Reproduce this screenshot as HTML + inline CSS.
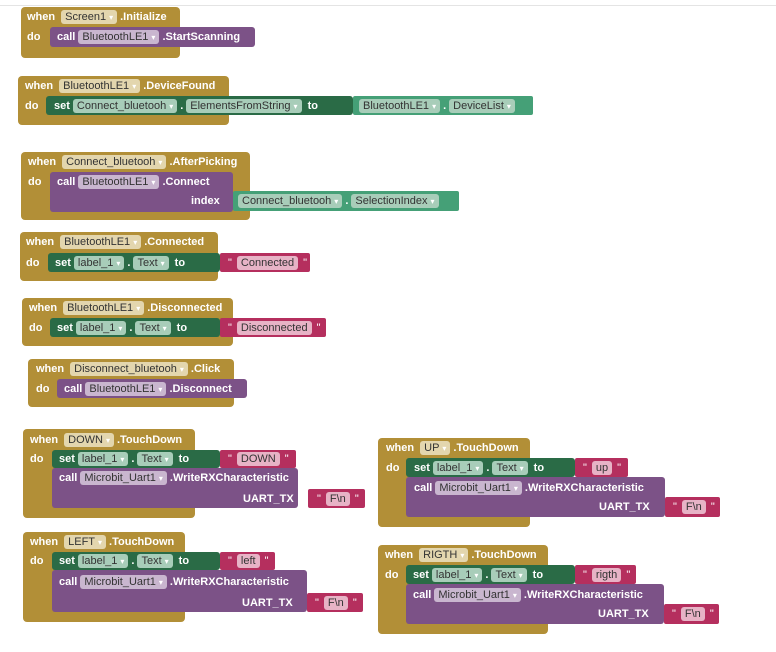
<!DOCTYPE html>
<html><head><meta charset="utf-8"><style>
body{margin:0;width:776px;height:652px;background:#fff;position:relative;overflow:hidden;font-family:"Liberation Sans",Arial,sans-serif;}
.r{position:absolute;}
.g{background:#b28f37;border-radius:4px}
.pu{background:#7c5287;border-radius:3px}
.sg{background:#2a6b46;border-radius:3px}
.gt{background:#45a077;border-radius:2px}
.tx{background:#b52f5e;border-radius:2px}
.row{position:absolute;display:flex;align-items:center;white-space:nowrap;color:#fff;font-weight:bold;font-size:11px;}
.p{display:inline-block;font-weight:normal;color:#333;border-radius:3px;padding:0 4px;height:14px;line-height:14px;margin:0 3px;font-size:11px}
.pg{background:#e3d6ae}.pp{background:#c9b6cf}.pe{background:#a8cdb9}.pt{background:#e7b3c6}
.p i{font-style:normal;color:#fff;font-size:8px;margin-left:3px}
.s{margin:0 3px}
.q{margin:0 2px;font-weight:normal}
</style></head><body>
<div class="r" style="left:0;top:5px;width:776px;height:1px;background:#e4e4e4"></div>

<!-- 1 -->
<div class="r g" style="left:21px;top:7px;width:159px;height:51px"></div>
<div class="r pu" style="left:50px;top:27px;width:205px;height:20px"></div>
<div class="row" style="left:27px;top:7px;height:20px">when<span class="p pg" style="margin-left:6px">Screen1<i>▾</i></span>.Initialize</div>
<div class="row" style="left:27px;top:27px;height:20px">do</div>
<div class="row" style="left:57px;top:27px;height:20px">call<span class="p pp">BluetoothLE1<i>▾</i></span>.StartScanning</div>

<!-- 2 -->
<div class="r g" style="left:18px;top:76px;width:211px;height:49px"></div>
<div class="r sg" style="left:46px;top:96px;width:307px;height:19px"></div>
<div class="r gt" style="left:353px;top:96px;width:180px;height:19px"></div>
<div class="row" style="left:25px;top:76px;height:20px">when<span class="p pg" style="margin-left:6px">BluetoothLE1<i>▾</i></span>.DeviceFound</div>
<div class="row" style="left:25px;top:96px;height:19px">do</div>
<div class="row" style="left:54px;top:96px;height:19px">set<span class="p pe">Connect_bluetooh<i>▾</i></span>.<span class="p pe">ElementsFromString<i>▾</i></span><span class="s">to</span></div>
<div class="row" style="left:356px;top:96px;height:19px"><span class="p pe">BluetoothLE1<i>▾</i></span>.<span class="p pe">DeviceList<i>▾</i></span></div>

<!-- 3 -->
<div class="r g" style="left:21px;top:152px;width:229px;height:68px"></div>
<div class="r pu" style="left:50px;top:172px;width:183px;height:40px"></div>
<div class="r gt" style="left:233px;top:191px;width:226px;height:20px"></div>
<div class="row" style="left:28px;top:152px;height:20px">when<span class="p pg" style="margin-left:6px">Connect_bluetooh<i>▾</i></span>.AfterPicking</div>
<div class="row" style="left:28px;top:172px;height:19px">do</div>
<div class="row" style="left:57px;top:172px;height:19px">call<span class="p pp">BluetoothLE1<i>▾</i></span>.Connect</div>
<div class="row" style="left:191px;top:191px;height:20px">index</div>
<div class="row" style="left:235px;top:191px;height:20px"><span class="p pe">Connect_bluetooh<i>▾</i></span>.<span class="p pe">SelectionIndex<i>▾</i></span></div>

<!-- 4 -->
<div class="r g" style="left:20px;top:232px;width:198px;height:49px"></div>
<div class="r sg" style="left:48px;top:253px;width:172px;height:19px"></div>
<div class="r tx" style="left:220px;top:253px;width:90px;height:19px"></div>
<div class="row" style="left:26px;top:232px;height:20px">when<span class="p pg" style="margin-left:6px">BluetoothLE1<i>▾</i></span>.Connected</div>
<div class="row" style="left:26px;top:253px;height:19px">do</div>
<div class="row" style="left:55px;top:253px;height:19px">set<span class="p pe">label_1<i>▾</i></span>.<span class="p pe">Text<i>▾</i></span><span class="s">to</span></div>
<div class="row" style="left:226px;top:253px;height:19px"><span class="q">"</span><span class="p pt">Connected</span><span class="q">"</span></div>

<!-- 5 -->
<div class="r g" style="left:22px;top:298px;width:211px;height:48px"></div>
<div class="r sg" style="left:50px;top:318px;width:170px;height:19px"></div>
<div class="r tx" style="left:220px;top:318px;width:106px;height:19px"></div>
<div class="row" style="left:29px;top:298px;height:20px">when<span class="p pg" style="margin-left:6px">BluetoothLE1<i>▾</i></span>.Disconnected</div>
<div class="row" style="left:29px;top:318px;height:19px">do</div>
<div class="row" style="left:57px;top:318px;height:19px">set<span class="p pe">label_1<i>▾</i></span>.<span class="p pe">Text<i>▾</i></span><span class="s">to</span></div>
<div class="row" style="left:226px;top:318px;height:19px"><span class="q">"</span><span class="p pt">Disconnected</span><span class="q">"</span></div>

<!-- 6 -->
<div class="r g" style="left:28px;top:359px;width:206px;height:48px"></div>
<div class="r pu" style="left:57px;top:379px;width:190px;height:19px"></div>
<div class="row" style="left:36px;top:359px;height:20px">when<span class="p pg" style="margin-left:6px">Disconnect_bluetooh<i>▾</i></span>.Click</div>
<div class="row" style="left:36px;top:379px;height:19px">do</div>
<div class="row" style="left:64px;top:379px;height:19px">call<span class="p pp">BluetoothLE1<i>▾</i></span>.Disconnect</div>

<!-- DOWN -->
<div class="r g" style="left:23px;top:429px;width:172px;height:89px"></div>
<div class="r sg" style="left:52px;top:450px;width:168px;height:18px"></div>
<div class="r tx" style="left:220px;top:450px;width:76px;height:18px"></div>
<div class="r pu" style="left:52px;top:468px;width:246px;height:40px"></div>
<div class="r tx" style="left:308px;top:489px;width:57px;height:19px"></div>
<div class="row" style="left:30px;top:429px;height:21px">when<span class="p pg" style="margin-left:6px">DOWN<i>▾</i></span>.TouchDown</div>
<div class="row" style="left:30px;top:450px;height:18px">do</div>
<div class="row" style="left:59px;top:450px;height:18px">set<span class="p pe">label_1<i>▾</i></span>.<span class="p pe">Text<i>▾</i></span><span class="s">to</span></div>
<div class="row" style="left:226px;top:450px;height:18px"><span class="q">"</span><span class="p pt">DOWN</span><span class="q">"</span></div>
<div class="row" style="left:59px;top:468px;height:20px">call<span class="p pp">Microbit_Uart1<i>▾</i></span>.WriteRXCharacteristic</div>
<div class="row" style="left:243px;top:489px;height:19px">UART_TX</div>
<div class="row" style="left:315px;top:489px;height:19px"><span class="q">"</span><span class="p pt">F\n</span><span class="q">"</span></div>

<!-- LEFT -->
<div class="r g" style="left:23px;top:532px;width:162px;height:90px"></div>
<div class="r sg" style="left:52px;top:552px;width:168px;height:18px"></div>
<div class="r tx" style="left:220px;top:552px;width:55px;height:18px"></div>
<div class="r pu" style="left:52px;top:570px;width:255px;height:42px"></div>
<div class="r tx" style="left:307px;top:593px;width:56px;height:19px"></div>
<div class="row" style="left:30px;top:532px;height:20px">when<span class="p pg" style="margin-left:6px">LEFT<i>▾</i></span>.TouchDown</div>
<div class="row" style="left:30px;top:552px;height:18px">do</div>
<div class="row" style="left:59px;top:552px;height:18px">set<span class="p pe">label_1<i>▾</i></span>.<span class="p pe">Text<i>▾</i></span><span class="s">to</span></div>
<div class="row" style="left:226px;top:552px;height:18px"><span class="q">"</span><span class="p pt">left</span><span class="q">"</span></div>
<div class="row" style="left:59px;top:572px;height:20px">call<span class="p pp">Microbit_Uart1<i>▾</i></span>.WriteRXCharacteristic</div>
<div class="row" style="left:242px;top:593px;height:19px">UART_TX</div>
<div class="row" style="left:313px;top:593px;height:19px"><span class="q">"</span><span class="p pt">F\n</span><span class="q">"</span></div>

<!-- UP -->
<div class="r g" style="left:378px;top:438px;width:152px;height:89px"></div>
<div class="r sg" style="left:406px;top:458px;width:169px;height:19px"></div>
<div class="r tx" style="left:575px;top:458px;width:53px;height:19px"></div>
<div class="r pu" style="left:406px;top:477px;width:259px;height:40px"></div>
<div class="r tx" style="left:665px;top:497px;width:55px;height:20px"></div>
<div class="row" style="left:386px;top:438px;height:20px">when<span class="p pg" style="margin-left:6px">UP<i>▾</i></span>.TouchDown</div>
<div class="row" style="left:386px;top:458px;height:19px">do</div>
<div class="row" style="left:414px;top:458px;height:19px">set<span class="p pe">label_1<i>▾</i></span>.<span class="p pe">Text<i>▾</i></span><span class="s">to</span></div>
<div class="row" style="left:581px;top:458px;height:19px"><span class="q">"</span><span class="p pt">up</span><span class="q">"</span></div>
<div class="row" style="left:414px;top:478px;height:20px">call<span class="p pp">Microbit_Uart1<i>▾</i></span>.WriteRXCharacteristic</div>
<div class="row" style="left:599px;top:497px;height:20px">UART_TX</div>
<div class="row" style="left:671px;top:497px;height:20px"><span class="q">"</span><span class="p pt">F\n</span><span class="q">"</span></div>

<!-- RIGTH -->
<div class="r g" style="left:378px;top:545px;width:170px;height:89px"></div>
<div class="r sg" style="left:406px;top:565px;width:169px;height:19px"></div>
<div class="r tx" style="left:575px;top:565px;width:61px;height:19px"></div>
<div class="r pu" style="left:406px;top:584px;width:258px;height:40px"></div>
<div class="r tx" style="left:664px;top:604px;width:55px;height:20px"></div>
<div class="row" style="left:385px;top:545px;height:20px">when<span class="p pg" style="margin-left:6px">RIGTH<i>▾</i></span>.TouchDown</div>
<div class="row" style="left:385px;top:565px;height:19px">do</div>
<div class="row" style="left:413px;top:565px;height:19px">set<span class="p pe">label_1<i>▾</i></span>.<span class="p pe">Text<i>▾</i></span><span class="s">to</span></div>
<div class="row" style="left:581px;top:565px;height:19px"><span class="q">"</span><span class="p pt">rigth</span><span class="q">"</span></div>
<div class="row" style="left:413px;top:585px;height:20px">call<span class="p pp">Microbit_Uart1<i>▾</i></span>.WriteRXCharacteristic</div>
<div class="row" style="left:598px;top:604px;height:20px">UART_TX</div>
<div class="row" style="left:670px;top:604px;height:20px"><span class="q">"</span><span class="p pt">F\n</span><span class="q">"</span></div>
</body></html>
